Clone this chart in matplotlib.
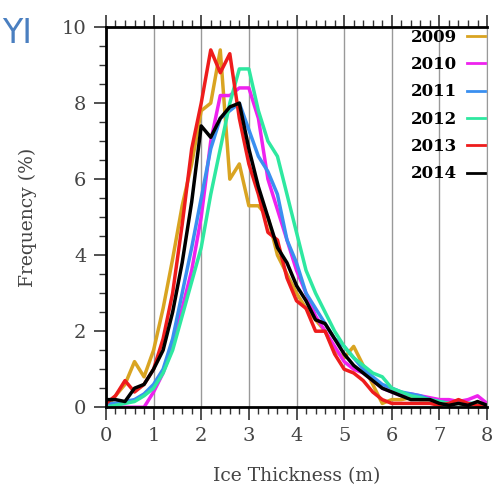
import numpy as np
import matplotlib.pyplot as plt
from matplotlib.ticker import MultipleLocator

plt.rcParams.update({'font.family': 'DejaVu Serif',
                     'xtick.labelsize': 14,
                     'ytick.labelsize': 14})

thick = np.round(np.arange(0, 8.01, 0.2), 1)

f2009 = [0.0, 0.3, 0.6, 1.2, 0.8, 1.5, 2.6, 3.9, 5.3, 6.4, 7.8, 8.0, 9.4, 6.0, 6.4, 5.3,
         5.3, 5.0, 4.0, 3.5, 3.0, 2.6, 2.3, 2.0, 1.5, 1.3, 1.6, 1.1, 0.6, 0.1, 0.2, 0.2,
         0.25, 0.2, 0.2, 0.1, 0.1, 0.1, 0.05, 0.1, 0.05]
f2010 = [0.0, 0.0, 0.0, 0.0, 0.0, 0.4, 0.9, 1.6, 2.6, 3.6, 5.0, 7.0, 8.2, 8.2, 8.4, 8.4,
         7.6, 6.0, 5.2, 4.4, 3.6, 3.0, 2.4, 2.0, 1.6, 1.2, 1.0, 0.9, 0.7, 0.5, 0.4, 0.3,
         0.35, 0.3, 0.25, 0.2, 0.2, 0.15, 0.2, 0.3, 0.1]
f2011 = [0.1, 0.1, 0.15, 0.2, 0.35, 0.6, 1.0, 1.8, 3.0, 4.2, 5.5, 6.8, 7.6, 7.8, 8.0, 7.3,
         6.6, 6.2, 5.6, 4.4, 3.8, 3.0, 2.6, 2.2, 1.8, 1.6, 1.3, 1.0, 0.8, 0.6, 0.5, 0.4,
         0.35, 0.3, 0.2, 0.15, 0.1, 0.1, 0.1, 0.1, 0.05]
f2012 = [0.0, 0.05, 0.1, 0.15, 0.3, 0.5, 0.9, 1.5, 2.4, 3.3, 4.2, 5.6, 6.8, 8.0, 8.9, 8.9,
         7.8, 7.0, 6.6, 5.6, 4.6, 3.6, 3.0, 2.5, 2.0, 1.6, 1.3, 1.1, 0.9, 0.8, 0.5, 0.4,
         0.3, 0.25, 0.2, 0.15, 0.1, 0.1, 0.1, 0.1, 0.05]
f2013 = [0.1, 0.3, 0.7, 0.4, 0.6, 1.0, 1.8, 3.0, 4.8, 6.8, 8.0, 9.4, 8.8, 9.3, 7.6, 6.4,
         5.6, 4.6, 4.4, 3.4, 2.8, 2.6, 2.0, 2.0, 1.4, 1.0, 0.9, 0.7, 0.4, 0.2, 0.1, 0.1,
         0.1, 0.1, 0.1, 0.05, 0.1, 0.2, 0.1, 0.05, 0.05]
f2014 = [0.2, 0.2, 0.15, 0.5, 0.6, 1.0, 1.5, 2.5, 3.8, 5.4, 7.4, 7.1, 7.6, 7.9, 8.0, 6.8,
         5.8, 5.0, 4.2, 3.8, 3.2, 2.8, 2.3, 2.2, 1.8, 1.4, 1.1, 0.9, 0.7, 0.5, 0.4, 0.3,
         0.2, 0.2, 0.2, 0.1, 0.05, 0.1, 0.05, 0.15, 0.05]

years = ['2009', '2010', '2011', '2012', '2013', '2014']
series = [f2009, f2010, f2011, f2012, f2013, f2014]
colors = ['#d9a421', '#ee22ee', '#3a8ff0', '#2ee8a0', '#ee1c1c', '#000000']

fig = plt.figure(figsize=(4.95, 4.93), dpi=100)
ax = fig.add_axes([0.214, 0.174, 0.77, 0.771])

for yr, f, c in zip(years, series, colors):
    ax.plot(thick, f, color=c, lw=2.5, label=yr)

ax.set_xlim(0, 8)
ax.set_ylim(0, 10)
ax.xaxis.set_major_locator(MultipleLocator(1))
ax.xaxis.set_minor_locator(MultipleLocator(0.2))
ax.yaxis.set_major_locator(MultipleLocator(2))
ax.yaxis.set_minor_locator(MultipleLocator(0.5))
ax.grid(axis='x', color='#999999', lw=1)
ax.tick_params(which='both', direction='out', top=True, colors='#333333',
               labelcolor='#444444')
ax.tick_params(which='major', length=9, width=1.2, pad=5)
ax.tick_params(which='minor', length=5, width=1)
for s in ['left', 'bottom', 'top']:
    ax.spines[s].set_linewidth(2)
ax.spines['right'].set_color('#999999')

ax.set_xlabel('Ice Thickness (m)', color='#444444', fontsize=13.5, labelpad=16)
ax.set_ylabel('Frequency (%)', color='#444444', fontsize=13.5, labelpad=18)

leg = ax.legend(loc='upper right', frameon=False, markerfirst=False,
                handlelength=1.1, handletextpad=0.6, labelspacing=0.62,
                borderaxespad=0.0, borderpad=0.1,
                prop={'weight': 'bold', 'size': 12})
for ln in leg.get_lines():
    ln.set_linewidth(2)

fig.text(0.004, 0.965, 'YI', color='#4a7fc0', fontsize=24, family='DejaVu Sans',
         va='top')

fig.savefig('out.png', dpi=100)
